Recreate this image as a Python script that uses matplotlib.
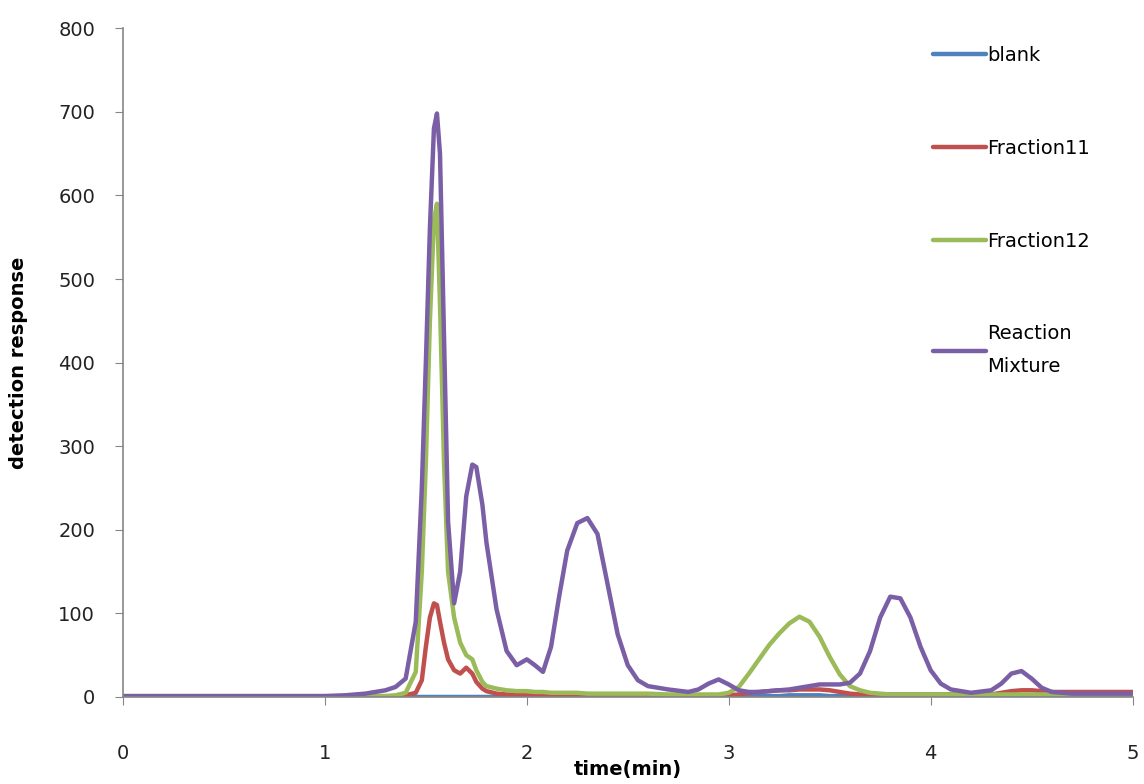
import numpy as np
import matplotlib
matplotlib.use('Agg')
import matplotlib.pyplot as plt

# retention time (min)
time_min = [0, 0.5, 1.0, 1.1, 1.2, 1.3, 1.35, 1.4, 1.45, 1.48,
            1.5, 1.52, 1.54, 1.555, 1.57, 1.59, 1.61, 1.64, 1.67, 1.7,
            1.73, 1.75, 1.78, 1.8, 1.85, 1.9, 1.95, 2.0, 2.04, 2.08,
            2.12, 2.16, 2.2, 2.25, 2.3, 2.35, 2.4, 2.45, 2.5, 2.55,
            2.6, 2.7, 2.8, 2.85, 2.9, 2.95, 3.0, 3.05, 3.1, 3.15,
            3.2, 3.25, 3.3, 3.35, 3.4, 3.45, 3.5, 3.55, 3.6, 3.65,
            3.7, 3.75, 3.8, 3.85, 3.9, 3.95, 4.0, 4.05, 4.1, 4.2,
            4.3, 4.35, 4.4, 4.45, 4.5, 4.55, 4.6, 4.7, 4.8, 4.9, 5.0]

blank = [0, 0, 0, 0, 0, 0, 0, 0, 0, 0,
         0, 0, 0, 0, 0, 0, 0, 0, 0, 0,
         0, 0, 0, 0, 0, 0, 0, 0, 0, 0,
         0, 0, 0, 0, 0, 0, 0, 0, 0, 0,
         0, 0, 0, 0, 0, 0, 0, 0, 1, 1,
         1, 1, 2, 2, 2, 2, 1, 1, 1, 0,
         0, 0, 0, 0, 0, 0, 0, 0, 0, 0,
         0, 0, 0, 0, 0, 0, 0, 0, 0, 0, 0]

fraction11 = [1, 1, 1, 1, 1, 1, 1, 2, 5, 20,
              60, 95, 112, 110, 90, 65, 45, 32, 28, 35,
              28, 18, 10, 7, 4, 3, 3, 2, 2, 2,
              2, 2, 2, 2, 2, 2, 2, 2, 2, 2,
              2, 2, 2, 2, 2, 2, 2, 3, 5, 6,
              7, 8, 8, 9, 9, 9, 8, 6, 4, 3,
              3, 3, 3, 3, 3, 3, 3, 3, 3, 3,
              3, 5, 7, 8, 8, 7, 6, 6, 6, 6, 6]

fraction12 = [1, 1, 1, 1, 1, 1, 2, 5, 30, 150,
              280, 450, 570, 590, 470, 280, 150, 95, 65, 50,
              45, 32, 18, 13, 10, 8, 7, 7, 6, 6,
              5, 5, 5, 5, 4, 4, 4, 4, 4, 4,
              4, 3, 3, 3, 3, 3, 5, 12, 28, 45,
              62, 76, 88, 96, 90, 72, 48, 27, 13, 8,
              5, 4, 3, 3, 3, 3, 3, 3, 3, 3,
              3, 3, 3, 3, 3, 3, 3, 3, 3, 3, 3]

reaction_mix = [1, 1, 1, 2, 4, 8, 12, 22, 90, 250,
                400, 560, 680, 698, 650, 430, 210, 112, 150, 240,
                278, 275, 230, 185, 105, 55, 38, 45, 38, 30,
                60, 120, 175, 208, 214, 195, 135, 75, 38, 20,
                13, 9, 6, 9, 16, 21, 15, 8, 6, 6,
                7, 8, 9, 11, 13, 15, 15, 15, 17, 28,
                55, 95, 120, 118, 95, 60, 32, 16, 9, 5,
                8, 16, 28, 31, 22, 11, 6, 4, 4, 4, 4]

labels = ['blank', 'Fraction11', 'Fraction12', 'Reaction\nMixture']
colors = ['#4F81BD', '#C0504D', '#9BBB59', '#7B5FA6']

fig = plt.figure(figsize=(11.44, 7.84), dpi=100)
ax = fig.add_axes([0.1075, 0.111, 0.8825, 0.853])

for ys, lab, col in zip([blank, fraction11, fraction12, reaction_mix], labels, colors):
    ax.plot(time_min, ys, color=col, lw=3.2, label=lab,
            solid_capstyle='round', solid_joinstyle='round')

ax.set_xlim(0, 5)
ax.set_ylim(0, 800)
ax.set_xticks(np.arange(0, 6, 1))
ax.set_yticks(np.arange(0, 900, 100))

for s in ['top', 'right']:
    ax.spines[s].set_visible(False)
for s in ['left', 'bottom']:
    ax.spines[s].set_color('#868686')
    ax.spines[s].set_linewidth(1.2)

ax.tick_params(axis='x', direction='out', length=6, color='#868686', pad=28,
               labelsize=14, labelcolor='#222222')
ax.tick_params(axis='y', direction='out', length=6, color='#868686', pad=14,
               labelsize=14, labelcolor='#222222')

ax.set_xlabel('time(min)', fontsize=14, fontweight='bold', labelpad=-2)
ax.set_ylabel('detection response', fontsize=14, fontweight='bold', labelpad=22)

leg = ax.legend(loc='upper left', bbox_to_anchor=(0.785, 1.0), frameon=False,
                fontsize=14, handlelength=2.7, handletextpad=0.1,
                labelspacing=3.8)
leg.get_texts()[3].set_linespacing(1.9)

fig.savefig('out.png', dpi=100)
